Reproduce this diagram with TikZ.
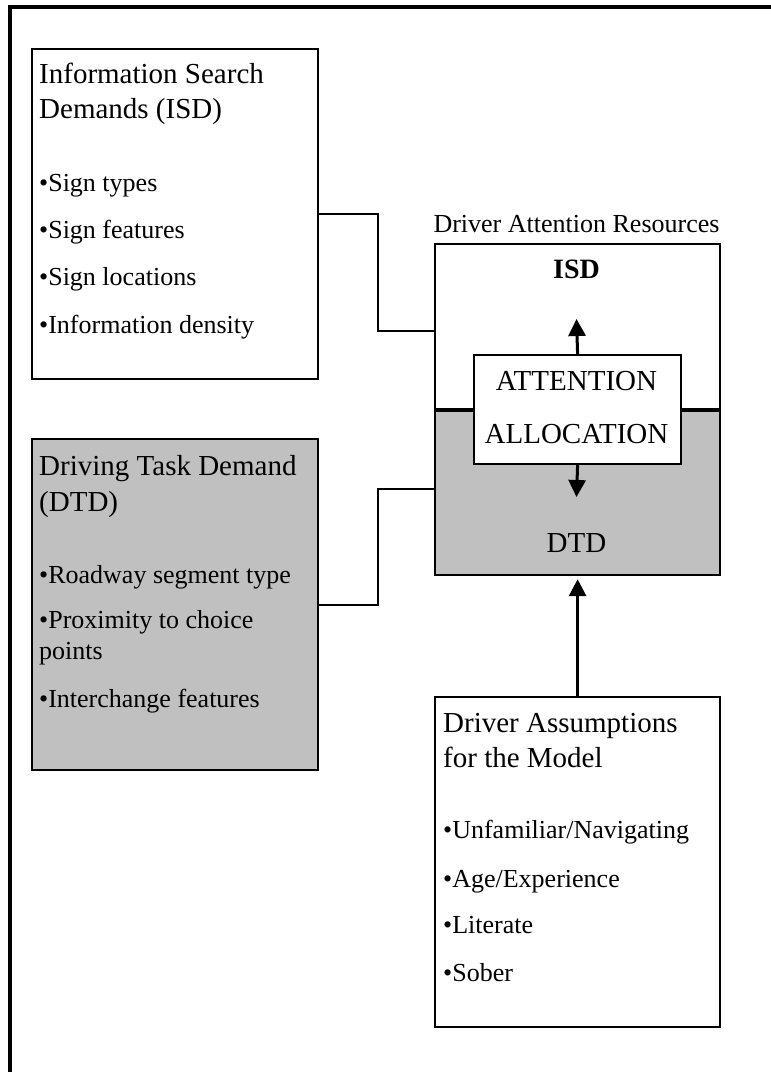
\documentclass[tikz,border=0pt]{standalone}
\usepackage{fontspec}
\setmainfont{Liberation Serif}
\usetikzlibrary{arrows.meta}
\definecolor{shade}{RGB}{192,192,192}
\tikzset{
  box/.style={draw, line width=2.2pt, anchor=north west, inner sep=0pt},
  head/.style={anchor=base west, inner sep=0pt, font=\fontsize{29}{35}\selectfont},
  item/.style={anchor=base west, inner sep=0pt, font=\fontsize{26}{31}\selectfont},
  mid/.style={anchor=base, inner sep=0pt, font=\fontsize{29}{35}\selectfont},
  link/.style={line width=1.8pt},
  flow/.style={line width=3pt, -{Triangle[length=17pt,width=17pt]}}
}
\begin{document}
\begin{tikzpicture}[x=1pt,y=-1pt]
\useasboundingbox (0,0) rectangle (771,1072);
% frame
\draw[line width=4pt] (10,1072) -- (10,7) -- (771,7);

% information search demands
\node[box, minimum width=286pt, minimum height=330pt] (isd) at (31,48){};
\node[head] (isdt1) at (39,83){Information Search};
\node[head] (isdt2) at (39,118){Demands (ISD)};
\node[item] (isdb1) at (39,191){•Sign types};
\node[item] (isdb2) at (39,238){•Sign features};
\node[item] (isdb3) at (39,285){•Sign locations};
\node[item] (isdb4) at (39,333){•Information density};

% driving task demand
\node[box, fill=shade, minimum width=286pt, minimum height=331pt] (dtd) at (31,438){};
\node[head] (dtdt1) at (39,475){Driving Task Demand};
\node[head] (dtdt2) at (39,511){(DTD)};
\node[item] (dtdb1) at (39,583){•Roadway segment type};
\node[item] (dtdb2) at (39,628){•Proximity to choice};
\node[item] (dtdb3) at (39,659){points};
\node[item] (dtdb4) at (39,707){•Interchange features};

% driver attention resources
\node[item, anchor=base] (dartitle) at (576.5,232){Driver Attention Resources};
\node[box, minimum width=285pt, minimum height=165pt] (darisd) at (434,243){};
\node[box, fill=shade, minimum width=285pt, minimum height=166pt] (dardtd) at (434,408){};
\draw[line width=3.2pt] (darisd.south west) -- (darisd.south east);
\node[mid, font=\fontsize{28}{35}\selectfont\bfseries] (isdlab) at (576.5,278){ISD};
\node[mid] (dtdlab) at (576.5,552){DTD};

\node[box, fill=white, minimum width=207pt, minimum height=109pt] (alloc) at (473,354){};
\node[mid] (alloct1) at (576.5,390){ATTENTION};
\node[mid] (alloct2) at (576.5,443){ALLOCATION};
\coordinate (upend) at (576.5,319);
\coordinate (downend) at (576.5,497);
\draw[flow] (alloc.north) -- (upend);
\draw[flow] (alloc.south) -- (downend);

% driver assumptions
\node[box, minimum width=285pt, minimum height=330pt] (dam) at (434,696){};
\node[head] (damt1) at (443,732){Driver Assumptions};
\node[head] (damt2) at (443,767){for the Model};
\node[item] (damb1) at (443,838){•Unfamiliar/Navigating};
\node[item] (damb2) at (443,887){•Age/Experience};
\node[item] (damb3) at (443,933){•Literate};
\node[item] (damb4) at (443,981){•Sober};

% connectors
\draw[link] (isd.east) -- ++(59,0) |- ([yshift=-4.5pt]darisd.west);
\draw[link] (dtd.east) -- ++(59,0) |- ([yshift=3pt]dardtd.west);
\draw[flow, shorten >=3pt] (dam.north) -- (dardtd.south);
\end{tikzpicture}
\end{document}
